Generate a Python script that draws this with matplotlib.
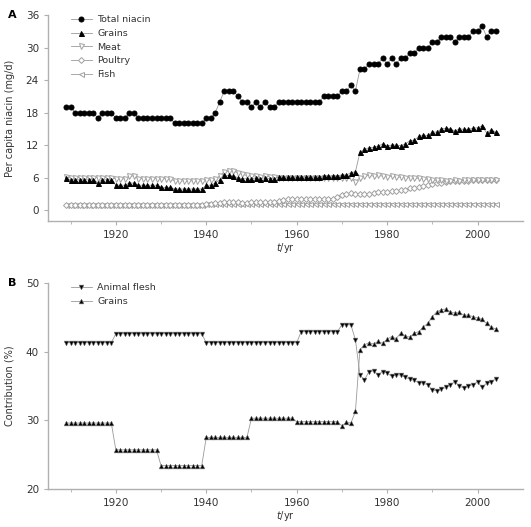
import numpy as np
import matplotlib
matplotlib.use("Agg")
import matplotlib.pyplot as plt

# ── Data ────────────────────────────────────────────────────────────────
YEARS = np.arange(1909, 2005)

TOTAL = ([19, 19] + [18] * 5 + [17] + [18] * 3 + [17] * 3 + [18] * 2 + [17] * 8 + [16] * 7
         + [17, 17, 18, 20, 22, 22, 22, 21, 20, 20, 19, 20, 19, 20, 19, 19]
         + [20] * 10 + [21] * 4 + [22, 22, 23, 22]
         + [26, 26, 27, 27, 27, 28, 27, 28, 27, 28, 28]
         + [29, 29, 30, 30, 30, 31, 31, 32, 32, 32, 31, 32, 32, 32, 33, 33, 34, 32, 33, 33])

GRAINS = ([5.9] + [5.6] * 6 + [5.1] + [5.6] * 3 + [4.6] * 3 + [5.0] * 2 + [4.6] * 5
          + [4.2] * 3 + [3.9] * 7
          + [4.6, 4.6, 5.0, 5.6, 6.4, 6.4, 6.3, 6.0, 5.8, 5.8, 5.7, 6.0, 5.8, 6.0, 5.8, 5.8]
          + [6.1] * 10 + [6.3] * 4 + [6.5, 6.5, 6.9, 7.1]
          + [10.7, 11.2, 11.5, 11.6, 11.8, 12.2, 11.8, 12.0, 12.0, 11.9, 12.2, 12.8, 12.9,
             13.6, 13.8, 13.8, 14.4, 14.4, 15.0, 15.1, 15.0, 14.6, 15.0, 14.9, 14.9, 15.1,
             15.2, 15.5, 14.3, 14.8, 14.4])

MEAT = ([6.2] + [6.0] * 10 + [5.8] * 3 + [6.3] * 2 + [5.8] * 8 + [5.4] * 7
        + [5.5, 5.6, 5.8, 6.3, 7.1, 7.2, 7.2, 6.9, 6.6, 6.4, 6.3, 6.3, 6.2, 6.3, 6.2, 6.2]
        + [5.9] * 10 + [6.0] * 7 + [5.2]
        + [6.0, 6.3, 6.4, 6.3, 6.4, 6.3, 6.2, 6.3, 6.1, 6.1, 6.0, 6.0, 5.9, 5.9, 5.8, 5.7,
           5.6, 5.5, 5.5, 5.4, 5.4, 5.5, 5.4, 5.5, 5.5, 5.6, 5.5, 5.6, 5.5, 5.6, 5.6])

POULTRY = ([1.0] * 31
           + [1.1, 1.2, 1.3, 1.4, 1.6, 1.6, 1.5, 1.5, 1.4, 1.4, 1.5, 1.5, 1.5, 1.5, 1.5, 1.6,
              1.7, 1.8]
           + [2.1] * 11
           + [2.5, 2.8, 3.0, 3.1, 3.0, 3.0, 2.9, 3.0, 3.1, 3.3, 3.3, 3.4, 3.5, 3.6, 3.7, 3.8,
              4.0, 4.1, 4.3, 4.5, 4.7, 4.9, 5.0, 5.1, 5.2, 5.3, 5.3, 5.3, 5.4, 5.4, 5.5, 5.5,
              5.6, 5.6, 5.6, 5.6])

FISH = [1.0] * 31 + [1.1] * 18 + [1.2] * 47

FLESH_PCT = ([41.3] * 11 + [42.6] * 20 + [41.3] * 21 + [42.9] * 9 + [43.9] * 3 + [41.7]
             + [36.6, 35.9, 37.1, 37.2, 36.6, 37.1, 36.9, 36.4, 36.6, 36.6, 36.3, 36.0,
                35.8, 35.5, 35.4, 35.2, 34.4, 34.3, 34.5, 34.8, 35.2, 35.6, 35.0, 34.7,
                35.0, 35.2, 35.6, 34.8, 35.4, 35.6, 36.0])

GRAINS_PCT = ([29.6] * 11 + [25.7] * 10 + [23.4] * 10 + [27.5] * 10 + [30.3] * 10
              + [29.8] * 10 + [29.2, 29.7, 29.6, 31.3]
              + [40.3, 41.0, 41.3, 41.1, 41.5, 41.2, 41.8, 42.2, 41.9, 42.7, 42.3, 42.1,
                 42.7, 42.9, 43.6, 44.1, 45.1, 45.8, 46.1, 46.2, 45.8, 45.6, 45.7, 45.3,
                 45.3, 45.1, 44.9, 44.7, 44.1, 43.6, 43.3])

# ── Style ───────────────────────────────────────────────────────────────
plt.rcParams["font.family"] = "DejaVu Sans"
plt.rcParams["font.size"] = 6.5
LINE = "#9a9a9a"
SPINE = "#b0b0b0"
TXT = "#333333"


def style_axes(ax, ylim, yticks):
    ax.set_xlim(1905, 2010)
    ax.set_ylim(*ylim)
    ax.set_yticks(yticks)
    ax.set_xticks([1920, 1940, 1960, 1980, 2000])
    ax.set_xticks(range(1910, 2010, 10), minor=True)
    for s in ("top", "right"):
        ax.spines[s].set_visible(False)
    for s in ("left", "bottom"):
        ax.spines[s].set_color(SPINE)
        ax.spines[s].set_linewidth(1.0)
    ax.tick_params(which="both", color=SPINE, labelcolor=TXT, labelsize=7.5, length=3)
    ax.tick_params(axis="x", which="minor", length=2)
    ax.set_xlabel("$t$/yr", color=TXT, fontsize=7, labelpad=1)


fig = plt.figure(figsize=(5.31, 5.27), dpi=100)
ax1 = fig.add_axes([0.0904, 0.5806, 0.894, 0.391])
ax2 = fig.add_axes([0.0904, 0.0721, 0.894, 0.391])

# Panel A
kw = dict(color=LINE, lw=0.6, markersize=3.6, markeredgewidth=0.7)
ax1.plot(YEARS, FISH, marker="<", mfc="white", mec="#a0a0a0", label="Fish", **kw)
ax1.plot(YEARS, POULTRY, marker="D", mfc="white", mec="#a0a0a0", label="Poultry",
         color=LINE, lw=0.6, markersize=3.0, markeredgewidth=0.7)
ax1.plot(YEARS, MEAT, marker="v", mfc="white", mec="#a0a0a0", label="Meat", **kw)
ax1.plot(YEARS, GRAINS, marker="^", mfc="black", mec="black", label="Grains", **kw)
ax1.plot(YEARS, TOTAL, marker="o", mfc="black", mec="black", label="Total niacin", **kw)
style_axes(ax1, (-2, 36), [0, 6, 12, 18, 24, 30, 36])
ax1.set_ylabel("Per capita niacin (mg/d)", color=TXT, fontsize=7, labelpad=8)
h, l = ax1.get_legend_handles_labels()
ax1.legend(h[::-1], l[::-1], loc="upper left", bbox_to_anchor=(0.03, 1.04), frameon=False,
           fontsize=6.8, handlelength=2.2, labelspacing=0.5, handletextpad=0.6,
           labelcolor=TXT)

# Panel B
kw2 = dict(color=LINE, lw=0.6, markersize=3.4, markeredgewidth=0.4)
ax2.plot(YEARS, FLESH_PCT, marker="v", mfc="black", mec="#777777", label="Animal flesh", **kw2)
ax2.plot(YEARS, GRAINS_PCT, marker="^", mfc="black", mec="#777777", label="Grains", **kw2)
style_axes(ax2, (20, 50), [20, 30, 40, 50])
ax2.set_ylabel("Contribution (%)", color=TXT, fontsize=7, labelpad=8)
ax2.legend(loc="upper left", bbox_to_anchor=(0.03, 1.04), frameon=False, fontsize=6.8,
           handlelength=2.2, labelspacing=0.5, handletextpad=0.6, labelcolor=TXT)

fig.text(0.015, 0.965, "A", fontsize=8, fontweight="bold")
fig.text(0.015, 0.457, "B", fontsize=8, fontweight="bold")

fig.savefig("out.png", dpi=100)
